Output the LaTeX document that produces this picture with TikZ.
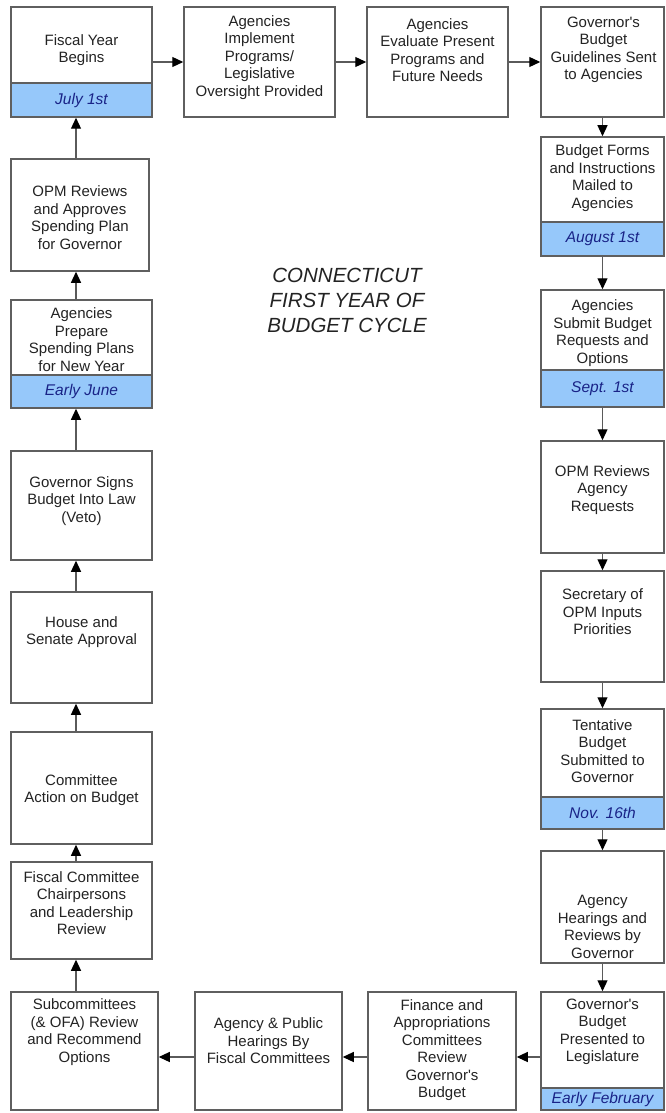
\documentclass[tikz,border=0pt]{standalone}
\usepackage{fontspec}
\setmainfont{Liberation Sans}
\usetikzlibrary{arrows.meta}
\definecolor{boxgray}{RGB}{95,95,95}
\definecolor{linegray}{RGB}{90,90,90}
\definecolor{bandblue}{RGB}{150,200,250}
\definecolor{datenavy}{RGB}{25,35,135}
\definecolor{txt}{RGB}{35,35,35}
\begin{document}
\begin{tikzpicture}[x=1pt,y=-1pt,
  box/.style={draw=boxgray, line width=1.5pt, fill=white, inner sep=0pt},
  band/.style={draw=boxgray, line width=1.5pt, fill=bandblue, inner sep=0pt,
    text=datenavy, font=\fontsize{15.5}{18}\selectfont\itshape},
  lbl/.style={align=center, inner sep=0pt, text=txt, font=\fontsize{15}{17.5}\selectfont},
  arr/.style={draw=linegray, line width=1.2pt, -{Triangle[length=11pt,width=10pt,color=black]}}]
\path[fill=white] (0,0) rectangle (665,1113);
\useasboundingbox (0,0) rectangle (665,1113);
\coordinate (lx) at (76,0);
\coordinate (by) at (0,1057);
% top row
\node[box, minimum width=141pt, minimum height=110pt] (b1) at (81.5,62) {};
\node[band, minimum width=141pt, minimum height=34pt] (d1) at (81.5,100) {July 1st};
\node[lbl] (t1) at (81.5,50) {Fiscal Year\\Begins};
\node[box, minimum width=151pt, minimum height=110pt] (b2) at (259.5,62) {};
\node[lbl] (t2) at (259.5,57.5) {Agencies\\Implement\\Programs/\\Legislative\\Oversight Provided};
\node[box, minimum width=141pt, minimum height=110pt] (b3) at (437.5,62) {};
\node[lbl] (t3) at (437.5,50) {Agencies\\Evaluate Present\\Programs and\\Future Needs};
\node[box, minimum width=123pt, minimum height=110pt] (b4) at (602.5,62) {};
\node[lbl] (t4) at (603.5,50) {Governor\textquotesingle s\\Budget\\Guidelines Sent\\to Agencies};
% right column
\node[box, minimum width=123pt, minimum height=119pt] (b5) at (602.5,196.5) {};
\node[band, minimum width=123pt, minimum height=34pt] (d5) at (602.5,239) {August 1st};
\node[lbl] (t5) at (602.5,178) {Budget Forms\\and Instructions\\Mailed to\\Agencies};
\node[box, minimum width=123pt, minimum height=117pt] (b6) at (602.5,348.5) {};
\node[band, minimum width=123pt, minimum height=37pt] (d6) at (602.5,388.5) {Sept. 1st};
\node[lbl] (t6) at (602.5,333) {Agencies\\Submit Budget\\Requests and\\Options};
\node[box, minimum width=123pt, minimum height=112pt] (b7) at (602.5,497) {};
\node[lbl] (t7) at (602.5,490) {OPM Reviews\\Agency\\Requests};
\node[box, minimum width=123pt, minimum height=111pt] (b8) at (602.5,626.5) {};
\node[lbl] (t8) at (602.5,612) {Secretary of\\OPM Inputs\\Priorities};
\node[box, minimum width=123pt, minimum height=120pt] (b9) at (602.5,769) {};
\node[band, minimum width=123pt, minimum height=32pt] (d9) at (602.5,813) {Nov. 16th};
\node[lbl] (t9) at (602.5,751) {Tentative\\Budget\\Submitted to\\Governor};
\node[box, minimum width=123pt, minimum height=112pt] (b10) at (602.5,907) {};
\node[lbl] (t10) at (602.5,927) {Agency\\Hearings and\\Reviews by\\Governor};
\node[box, minimum width=123pt, minimum height=118pt] (b11) at (602.5,1051) {};
\node[band, minimum width=123pt, minimum height=22pt] (d11) at (602.5,1099) {Early February};
\node[lbl] (t11) at (602.5,1032) {Governor\textquotesingle s\\Budget\\Presented to\\Legislature};
% bottom row
\node[box, minimum width=148pt, minimum height=118pt] (fin) at (442,1051) {};
\node[lbl] (tfin) at (442,1050) {Finance and\\Appropriations\\Committees\\Review\\Governor\textquotesingle s\\Budget};
\node[box, minimum width=147pt, minimum height=118pt] (hear) at (268.5,1051) {};
\node[lbl] (thear) at (268.5,1041) {Agency \& Public\\Hearings By\\Fiscal Committees};
\node[box, minimum width=147pt, minimum height=118pt] (sub) at (84.5,1051) {};
\node[lbl] (tsub) at (84.5,1032) {Subcommittees\\(\& OFA) Review\\and Recommend\\Options};
% left column
\node[box, minimum width=141pt, minimum height=97pt] (fisc) at (81.5,910.5) {};
\node[lbl] (tfisc) at (81.5,903) {Fiscal Committee\\Chairpersons\\and Leadership\\Review};
\node[box, minimum width=141pt, minimum height=112pt] (comm) at (81.5,788) {};
\node[lbl] (tcomm) at (81.5,790) {Committee\\Action on Budget};
\node[box, minimum width=141pt, minimum height=111pt] (house) at (81.5,647.5) {};
\node[lbl] (thouse) at (81.5,632) {House and\\Senate Approval};
\node[box, minimum width=141pt, minimum height=109pt] (gov) at (81.5,505.5) {};
\node[lbl] (tgov) at (81.5,501) {Governor Signs\\Budget Into Law\\(Veto)};
\node[box, minimum width=141pt, minimum height=108pt] (prep) at (81.5,354) {};
\node[band, minimum width=141pt, minimum height=33pt] (dprep) at (81.5,391.5) {Early June};
\node[lbl] (tprep) at (81.5,339.5) {Agencies\\Prepare\\Spending Plans\\for New Year};
\node[box, minimum width=138pt, minimum height=112pt] (opm) at (80,215) {};
\node[lbl] (topm) at (80,217.5) {OPM Reviews\\and Approves\\Spending Plan\\for Governor};
% title
\node[align=center, inner sep=0pt, text=txt, font=\fontsize{20.5}{25}\selectfont\itshape] (title) at (347,300) {CONNECTICUT\\FIRST YEAR OF\\BUDGET CYCLE};
% connectors
\draw[arr] (b1.east) -- (b2.west);
\draw[arr] (b2.east) -- (b3.west);
\draw[arr] (b3.east) -- (b4.west);
\draw[arr] (b4.south) -- (b5.north);
\draw[arr] (d5.south) -- (b6.north);
\draw[arr] (d6.south) -- (b7.north);
\draw[arr] (b7.south) -- (b8.north);
\draw[arr] (b8.south) -- (b9.north);
\draw[arr] (d9.south) -- (b10.north);
\draw[arr] (b10.south) -- (b11.north);
\draw[arr] (b11.west |- by) -- (fin.east |- by);
\draw[arr] (fin.west |- by) -- (hear.east |- by);
\draw[arr] (hear.west |- by) -- (sub.east |- by);
\draw[arr] (sub.north -| lx) -- (fisc.south -| lx);
\draw[arr] (fisc.north -| lx) -- (comm.south -| lx);
\draw[arr] (comm.north -| lx) -- (house.south -| lx);
\draw[arr] (house.north -| lx) -- (gov.south -| lx);
\draw[arr] (gov.north -| lx) -- (dprep.south -| lx);
\draw[arr] (prep.north -| lx) -- (opm.south -| lx);
\draw[arr] (opm.north -| lx) -- (d1.south -| lx);
\end{tikzpicture}
\end{document}
